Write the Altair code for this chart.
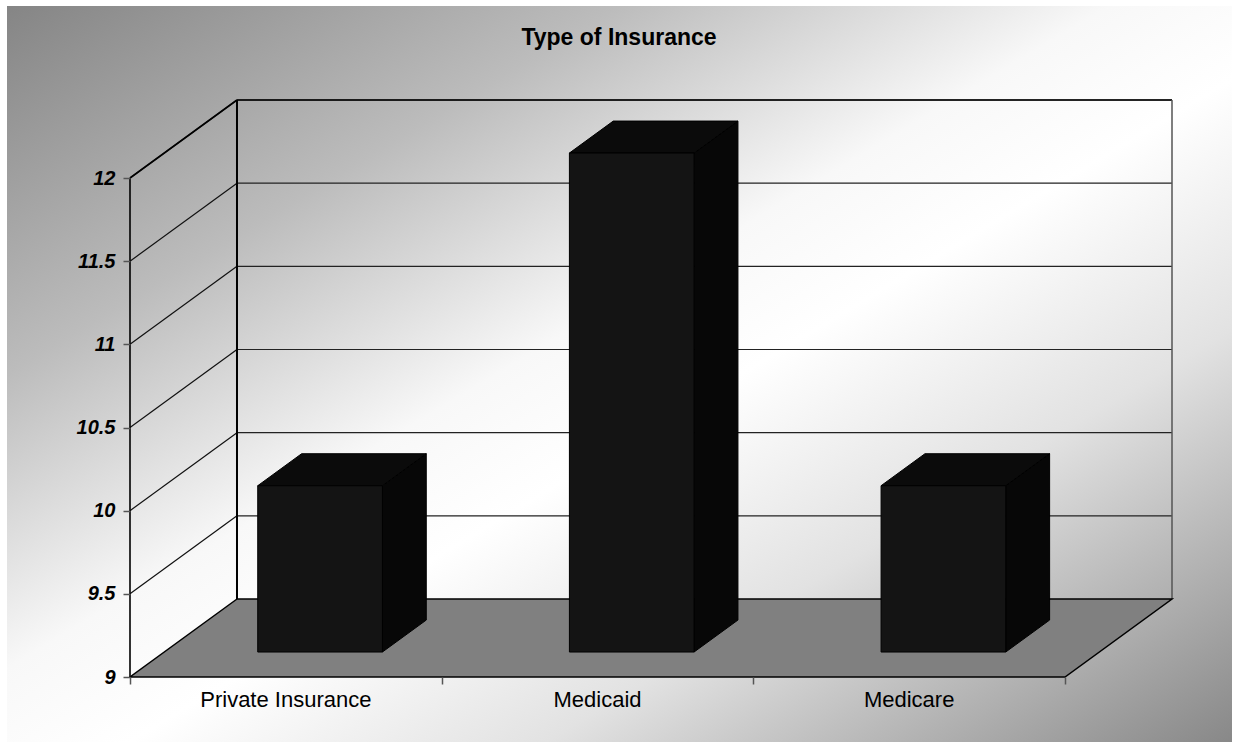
import altair as alt
import pandas as pd

# ---- data ----
categories = ["Private Insurance", "Medicaid", "Medicare"]
values = [10, 12, 10]
y_ticks = [9, 9.5, 10, 10.5, 11, 11.5, 12]
y_min, y_max = 9, 12

# ---- oblique projection (style) ----
DX = 0.3433   # depth shift in category units
DY = 0.469    # depth shift in value units
D1, D2 = 0.32, 0.73   # bar depth (front, back)
HALF = 0.2            # half bar width, category units
n = len(categories)

xscale = alt.Scale(domain=[0, n + DX], nice=False, zero=False)
yscale = alt.Scale(domain=[y_min, y_max + DY], nice=False, zero=False)

AX = alt.Axis(values=list(range(n + 1)), labels=False, domain=False, grid=False,
              ticks=True, tickSize=7, tickColor="#555", tickWidth=1.5, title=None, zindex=2)
AY = alt.Axis(values=y_ticks, format="~g", domain=False, grid=False,
              tickSize=7, tickColor="#555", tickWidth=1.5, labelPadding=8,
              labelFont="Liberation Sans", labelFontSize=20,
              labelFontWeight="bold", labelFontStyle="italic",
              labelColor="black", title=None, zindex=2)


def X(f):
    return alt.X(f, type="quantitative", scale=xscale, axis=AX)


def Y(f):
    return alt.Y(f, type="quantitative", scale=yscale, axis=AY)


# background
bg_grad = alt.LinearGradient(
    gradient="linear", x1=0, y1=0, x2=1, y2=1,
    stops=[alt.GradientStop(offset=0, color="#858585"),
           alt.GradientStop(offset=0.25, color="#bcbcbc"),
           alt.GradientStop(offset=0.45, color="#f8f8f8"),
           alt.GradientStop(offset=0.55, color="#ffffff"),
           alt.GradientStop(offset=0.72, color="#e2e2e2"),
           alt.GradientStop(offset=1, color="#888888")])
background = alt.Chart(pd.DataFrame({"k": [0]})).mark_rect(fill=bg_grad).encode(
    x=alt.value(-123), x2=alt.value(1102), y=alt.value(-94), y2=alt.value(642))

# back-wall gridlines and side-wall diagonals
grid_vals = [v for v in y_ticks if v > y_min]
grid_df = pd.DataFrame({"x": [DX] * len(grid_vals), "x2": [n + DX] * len(grid_vals),
                        "y": [v + DY for v in grid_vals]})
grid = alt.Chart(grid_df).mark_rule(color="#222", strokeWidth=1.2).encode(
    x=X("x"), x2="x2", y=Y("y"))
side_df = pd.DataFrame({"x": [0] * len(grid_vals), "x2": [DX] * len(grid_vals),
                        "y": grid_vals, "y2": [v + DY for v in grid_vals]})
side = alt.Chart(side_df).mark_rule(color="#111", strokeWidth=1.2).encode(
    x=X("x"), x2="x2", y=Y("y"), y2="y2")

# back wall edges
wall_left = alt.Chart(pd.DataFrame({"x": [DX], "y": [y_min + DY], "y2": [y_max + DY]})).mark_rule(
    color="black", strokeWidth=2).encode(x=X("x"), y=Y("y"), y2="y2")
wall_top = alt.Chart(pd.DataFrame({"x": [0, DX], "x2": [DX, n + DX], "y": [y_max, y_max + DY],
                                   "y2": [y_max + DY, y_max + DY]})).mark_rule(
    color="black", strokeWidth=1.6).encode(x=X("x"), x2="x2", y=Y("y"), y2="y2")
wall_right = alt.Chart(pd.DataFrame({"x": [n + DX], "y": [y_min + DY], "y2": [y_max + DY]})).mark_rule(
    color="#555", strokeWidth=1.5).encode(x=X("x"), y=Y("y"), y2="y2")

# floor
floor_df = pd.DataFrame({"y": [y_min, y_min + DY], "x": [0, DX], "x2": [n, n + DX]})
floor = alt.Chart(floor_df).mark_area(orient="horizontal", fill="#808080", stroke="black",
                                      strokeWidth=1.5).encode(x=X("x"), x2="x2", y=Y("y"))

# bars
rows_front, rows_top, rows_side = [], [], []
for i, (c, v) in enumerate(zip(categories, values)):
    xl, xr = i + 0.5 - HALF, i + 0.5 + HALF
    rows_front.append({"cat": c, "x": xl + D1 * DX, "x2": xr + D1 * DX,
                       "y": y_min + D1 * DY, "y2": v + D1 * DY})
    for d in (D1, D2):
        rows_top.append({"cat": c, "y": v + d * DY, "x": xl + d * DX, "x2": xr + d * DX})
        rows_side.append({"cat": c, "x": xr + d * DX, "y": y_min + d * DY, "y2": v + d * DY})

bar_side = alt.Chart(pd.DataFrame(rows_side)).mark_area(
    orient="vertical", fill="#070707", stroke="black", strokeWidth=1).encode(
    x=X("x"), y=Y("y"), y2="y2", detail="cat:N")
bar_top = alt.Chart(pd.DataFrame(rows_top)).mark_area(
    orient="horizontal", fill="#0b0b0b", stroke="black", strokeWidth=1).encode(
    x=X("x"), x2="x2", y=Y("y"), detail="cat:N")
bar_front = alt.Chart(pd.DataFrame(rows_front)).mark_rect(
    fill="#141414", stroke="black", strokeWidth=1).encode(
    x=X("x"), x2="x2", y=Y("y"), y2="y2")

# front axis line
front_axis = alt.Chart(pd.DataFrame({"x": [0], "y": [y_min], "y2": [y_max]})).mark_rule(
    color="black", strokeWidth=1.6).encode(x=X("x"), y=Y("y"), y2="y2")

# category labels
lab_df = pd.DataFrame({"cat": categories, "x": [i + 0.5 for i in range(n)], "y": [y_min] * n})
labels = alt.Chart(lab_df).mark_text(font="Liberation Sans", fontSize=22, color="black",
                                     baseline="alphabetic", align="center", dy=30).encode(
    x=X("x"), y=Y("y"), text="cat:N")

chart = alt.layer(
    background, side, grid, wall_left, wall_top, wall_right, floor,
    bar_side, bar_top, bar_front, front_axis, labels
).properties(
    width=1042, height=577,
    title=alt.TitleParams("Type of Insurance", font="Liberation Sans", fontSize=23,
                          fontWeight="bold", anchor="middle", frame="group", dx=-32,
                          offset=-62, baseline="alphabetic", color="black"),
    autosize=alt.AutoSizeParams(type="none"),
    padding={"left": 130, "top": 100, "right": 66, "bottom": 68},
).configure_view(stroke=None).configure(background="white")

chart.save("out.html", embed_options={"renderer": "svg", "actions": False})
